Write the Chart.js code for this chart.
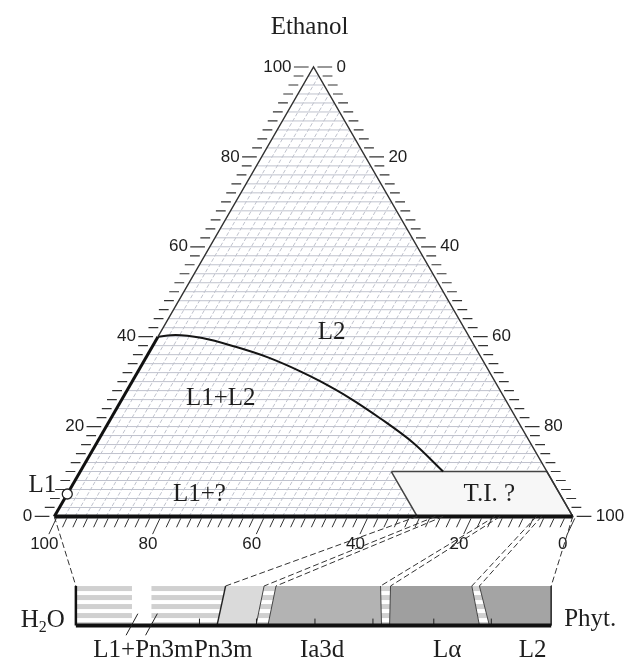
<!DOCTYPE html>
<html>
<head>
<meta charset="utf-8">
<script src="https://cdn.jsdelivr.net/npm/chart.js@4.4.1/dist/chart.umd.min.js"></script>
<style>
html, body { margin: 0; padding: 0; background: #fff; }
#phase { display: block; }
</style>
</head>
<body>
<canvas id="phase" width="632" height="666"></canvas>
<script>
// ternary axes, wt %
var axisTicks = [0, 20, 40, 60, 80, 100];
var axisLabels = ['0', '20', '40', '60', '80', '100'];
var minorStep = 2;

// L1+L2 / L2 boundary (ethanol %, phytantriol %)
var curveEthanol = [40, 40.4, 39.7, 37.8, 35.4, 32.3, 30.1, 26.4, 21.8, 16.4, 10];
var curvePhyt = [0, 3.2, 8.7, 15.9, 23.5, 31.3, 36.2, 43.7, 52.0, 61.0, 70];

// "T.I. ?" region corners
var tiEthanol = [10, 10, 0, 0];
var tiPhyt = [60, 90, 100, 70];

// L1 point on the water-ethanol side
var l1Ethanol = [5];
var l1Phyt = [0];

// binary water / phytantriol strip (strip %, top and bottom of each boundary)
var phaseNames = ['L1+Pn3m', 'Pn3m', 'Ia3d', 'L\u03b1', 'L2'];
var stripTop = [0, 31.5, 39.6, 42.1, 64.1, 66.2, 83.3, 84.9, 100];
var stripBottom = [0, 29.7, 37.9, 40.4, 64.3, 66.0, 84.9, 87.0, 100];
var linkPhyt = [0, 70, 73.5, 75, 85, 86, 93, 94, 100];
var stripFills = ['stripes', 'pn3m', 'stripes', 'ia3d', 'stripes', 'la', 'stripes', 'l2'];
var stripTicks = [26, 38, 50.3, 62.5, 75.3, 87.4];
var stripBreak = [11.8, 15.9];

// layout
var H = Math.sqrt(3) / 2;
var UNIT = 5.29;                 // pixels per percent
var STRIP_X0 = 4.16, STRIP_W = 91.68;
var STRIP_TOP = -13.4, STRIP_BASE = -21.0;

function tern(eth, phyt) { return { x: phyt + eth / 2, y: eth * H }; }
function strip(s, y) { return { x: STRIP_X0 + s * STRIP_W / 100, y: y }; }
function px(n) { return n / UNIT; }
function gap() { return { x: null, y: null }; }

var ctx = document.getElementById('phase').getContext('2d');

function stripePattern(color) {
    var tile = document.createElement('canvas');
    tile.width = 4; tile.height = 9;
    var g = tile.getContext('2d');
    g.fillStyle = '#ffffff'; g.fillRect(0, 0, 4, 9);
    g.fillStyle = color; g.fillRect(0, 0, 4, 5);
    return ctx.createPattern(tile, 'repeat');
}
var stripes = stripePattern('#d0d0d0');
var fills = { stripes: stripes, pn3m: '#dadada', ia3d: '#b3b3b3', la: '#9f9f9f', l2: '#a4a4a4' };

function line(points, color, width, extra) {
    var d = { data: points, showLine: true, borderColor: color, borderWidth: width,
        pointRadius: 0, fill: false, tension: 0 };
    for (var k in extra) d[k] = extra[k];
    return d;
}
function area(points, color, border, width) {
    return { data: points, showLine: true, backgroundColor: color, fill: 'shape',
        borderColor: border || 'rgba(0,0,0,0)', borderWidth: width || 0, pointRadius: 0 };
}

// grid
var gridH = [], gridD = [];
for (var e = minorStep; e < 100; e += minorStep) {
    gridH.push(tern(e, 0), tern(e, 100 - e), gap());
    gridD.push(tern(0, e), tern(100 - e, e), gap());
}

// axis ticks
var leftTicks = [], rightTicks = [], bottomTicks = [];
for (var v = 0; v <= 100; v += minorStep) {
    var major = axisTicks.indexOf(v) >= 0;
    var len = px(major ? 15 : 10);
    var pL = tern(v, 0);
    leftTicks.push({ x: pL.x - px(5) - len, y: pL.y }, { x: pL.x - px(5), y: pL.y }, gap());
    var pR = tern(100 - v, v);
    rightTicks.push({ x: pR.x + px(4), y: pR.y }, { x: pR.x + px(4) + len, y: pR.y }, gap());
    var pB = tern(0, 100 - v);
    var drop = px(major ? 16 : 9);
    bottomTicks.push({ x: pB.x + px(2), y: -px(2) }, { x: pB.x + px(2) - drop * 0.47, y: -px(2) - drop }, gap());
}

var curve = curveEthanol.map(function (eth, i) { return tern(eth, curvePhyt[i]); });
var tiBox = tiEthanol.map(function (eth, i) { return tern(eth, tiPhyt[i]); });
tiBox.push(tiBox[0]);

var layers = [];
layers.push(line(gridH, '#bfc2cd', 1));
layers.push(line(gridD, '#bfc2cd', 1, { borderDash: [4, 2] }));
layers.push(area(tiBox, '#f7f7f7', '#444', 1.5));
layers.push(line(curve, '#151515', 2, { cubicInterpolationMode: 'monotone' }));
layers.push(line([tern(40, 0), tern(100, 0), tern(0, 100)], '#333', 1.4));
layers.push(line([tern(0, 0), tern(40, 0)], '#111', 3));
layers.push(line(leftTicks, '#333', 1.2));
layers.push(line(rightTicks, '#333', 1.2));
layers.push(line(bottomTicks, '#333', 1));
layers.push(line([tern(0, 0), tern(0, 100)], '#111', 4));

// strip regions
for (var i = 0; i < stripFills.length; i++) {
    layers.push(area([strip(stripTop[i], STRIP_TOP), strip(stripTop[i + 1], STRIP_TOP),
        strip(stripBottom[i + 1], STRIP_BASE), strip(stripBottom[i], STRIP_BASE),
        strip(stripTop[i], STRIP_TOP)], fills[stripFills[i]]));
}
layers.push(area([strip(stripBreak[0], STRIP_TOP), strip(stripBreak[1], STRIP_TOP),
    strip(stripBreak[1], STRIP_BASE), strip(stripBreak[0], STRIP_BASE), strip(stripBreak[0], STRIP_TOP)], '#ffffff'));

// phase boundaries inside the strip
var bounds = [];
for (var j = 2; j < stripTop.length - 1; j++) {
    bounds.push(strip(stripTop[j], STRIP_TOP), strip(stripBottom[j], STRIP_BASE), gap());
}
layers.push(line(bounds, '#444', 1));
layers.push(line([strip(stripTop[1], STRIP_TOP), strip(stripBottom[1], STRIP_BASE)], '#222', 1.4));

// strip frame
layers.push(line([strip(100, STRIP_TOP), strip(100, STRIP_BASE)], '#333', 1));
layers.push(line([strip(0, STRIP_TOP), strip(0, STRIP_BASE)], '#111', 2.5));
var sTicks = [];
stripTicks.forEach(function (s) { sTicks.push(strip(s, STRIP_BASE), strip(s, STRIP_BASE + px(7)), gap()); });
layers.push(line(sTicks, '#222', 1));
layers.push(line([strip(0, STRIP_BASE), strip(100, STRIP_BASE)], '#111', 4));

// axis break marks
var slashes = [];
stripBreak.forEach(function (s) {
    var c = strip(s, STRIP_BASE);
    slashes.push({ x: c.x - px(6), y: c.y - px(10) }, { x: c.x + px(6), y: c.y + px(12) }, gap());
});
layers.push(line(slashes, '#222', 1));

// dashed links from the triangle base to the strip
var links = [];
linkPhyt.forEach(function (p, k) { links.push(tern(0, p), strip(stripTop[k], STRIP_TOP), gap()); });
layers.push(line(links, '#333', 1, { borderDash: [6, 3] }));

layers.push({ data: l1Ethanol.map(function (eth, i) { return tern(eth, l1Phyt[i]); }),
    pointRadius: 5, pointBackgroundColor: '#fff', pointBorderColor: '#222', pointBorderWidth: 1.3, showLine: false });

layers.forEach(function (d, i) { d.order = layers.length - i; });

var patternPlugin = {
    id: 'patternAlign',
    beforeDatasetsDraw: function (chart) {
        var top = chart.scales.y.getPixelForValue(STRIP_TOP);
        if (stripes.setTransform) stripes.setTransform(new DOMMatrix().translate(0, top));
    }
};

var labelPlugin = {
    id: 'labels',
    afterDatasetsDraw: function (chart) {
        var c = chart.ctx, sx = chart.scales.x, sy = chart.scales.y;
        function X(p) { return sx.getPixelForValue(p.x); }
        function Y(p) { return sy.getPixelForValue(p.y); }
        c.save();
        c.fillStyle = '#1e1e1e';

        c.font = '17px "Liberation Sans", Arial, sans-serif';
        c.textBaseline = 'middle';
        axisTicks.forEach(function (v, i) {
            var l = tern(v, 0);
            c.textAlign = 'right'; c.fillText(axisLabels[i], X(l) - 22, Y(l));
            var r = tern(100 - v, v);
            c.textAlign = 'left'; c.fillText(axisLabels[i], X(r) + 23, Y(r));
            var b = tern(0, 100 - v);
            c.textAlign = 'center'; c.fillText(axisLabels[i], X(b) - 10, Y(b) + 28);
        });

        var serif = '"Liberation Serif", "Times New Roman", serif';
        c.font = '25px ' + serif;
        c.textAlign = 'center';
        var apex = tern(100, 0);
        c.fillText('Ethanol', X(apex) - 4, Y(apex) - 40);
        [['L2', 41, 33], ['L1+L2', 26.2, 19], ['L1+?', 5, 25.5], ['T.I. ?', 5, 81.4]].forEach(function (t) {
            var p = tern(t[1], t[2]);
            c.fillText(t[0], X(p), Y(p));
        });
        var l1 = tern(l1Ethanol[0], l1Phyt[0]);
        c.textAlign = 'right';
        c.fillText('L1', X(l1) - 11, Y(l1) - 9);

        // strip labels
        c.textBaseline = 'alphabetic';
        var base = Y(strip(0, STRIP_BASE));
        var left = X(strip(0, STRIP_BASE));
        var right = X(strip(100, STRIP_BASE));
        c.textAlign = 'left';
        var wH = c.measureText('H').width, wO = c.measureText('O').width;
        c.font = '16px ' + serif;
        var w2 = c.measureText('2').width;
        var x0 = left - 11 - (wH + w2 + wO);
        c.font = '25px ' + serif;
        c.fillText('H', x0, base + 2);
        c.fillText('O', x0 + wH + w2, base + 2);
        c.font = '16px ' + serif;
        c.fillText('2', x0 + wH, base + 7);
        c.font = '25px ' + serif;
        c.fillText('Phyt.', right + 13, base + 1);

        c.textAlign = 'center';
        [14.2, 31, 51.8, 78.1, 96.1].forEach(function (s, i) {
            c.fillText(phaseNames[i], X(strip(s, 0)), base + 32);
        });
        c.restore();
    }
};

new Chart(ctx, {
    type: 'scatter',
    data: { datasets: layers },
    options: {
        responsive: false,
        animation: false,
        events: [],
        layout: { padding: 0 },
        scales: {
            x: { type: 'linear', display: false, min: -9.26, max: 110.21 },
            y: { type: 'linear', display: false, min: -27.6, max: 98.3 }
        },
        plugins: { legend: { display: false }, tooltip: { enabled: false } },
        elements: { point: { radius: 0, hoverRadius: 0 } }
    },
    plugins: [patternPlugin, labelPlugin]
});
</script>
</body>
</html>
